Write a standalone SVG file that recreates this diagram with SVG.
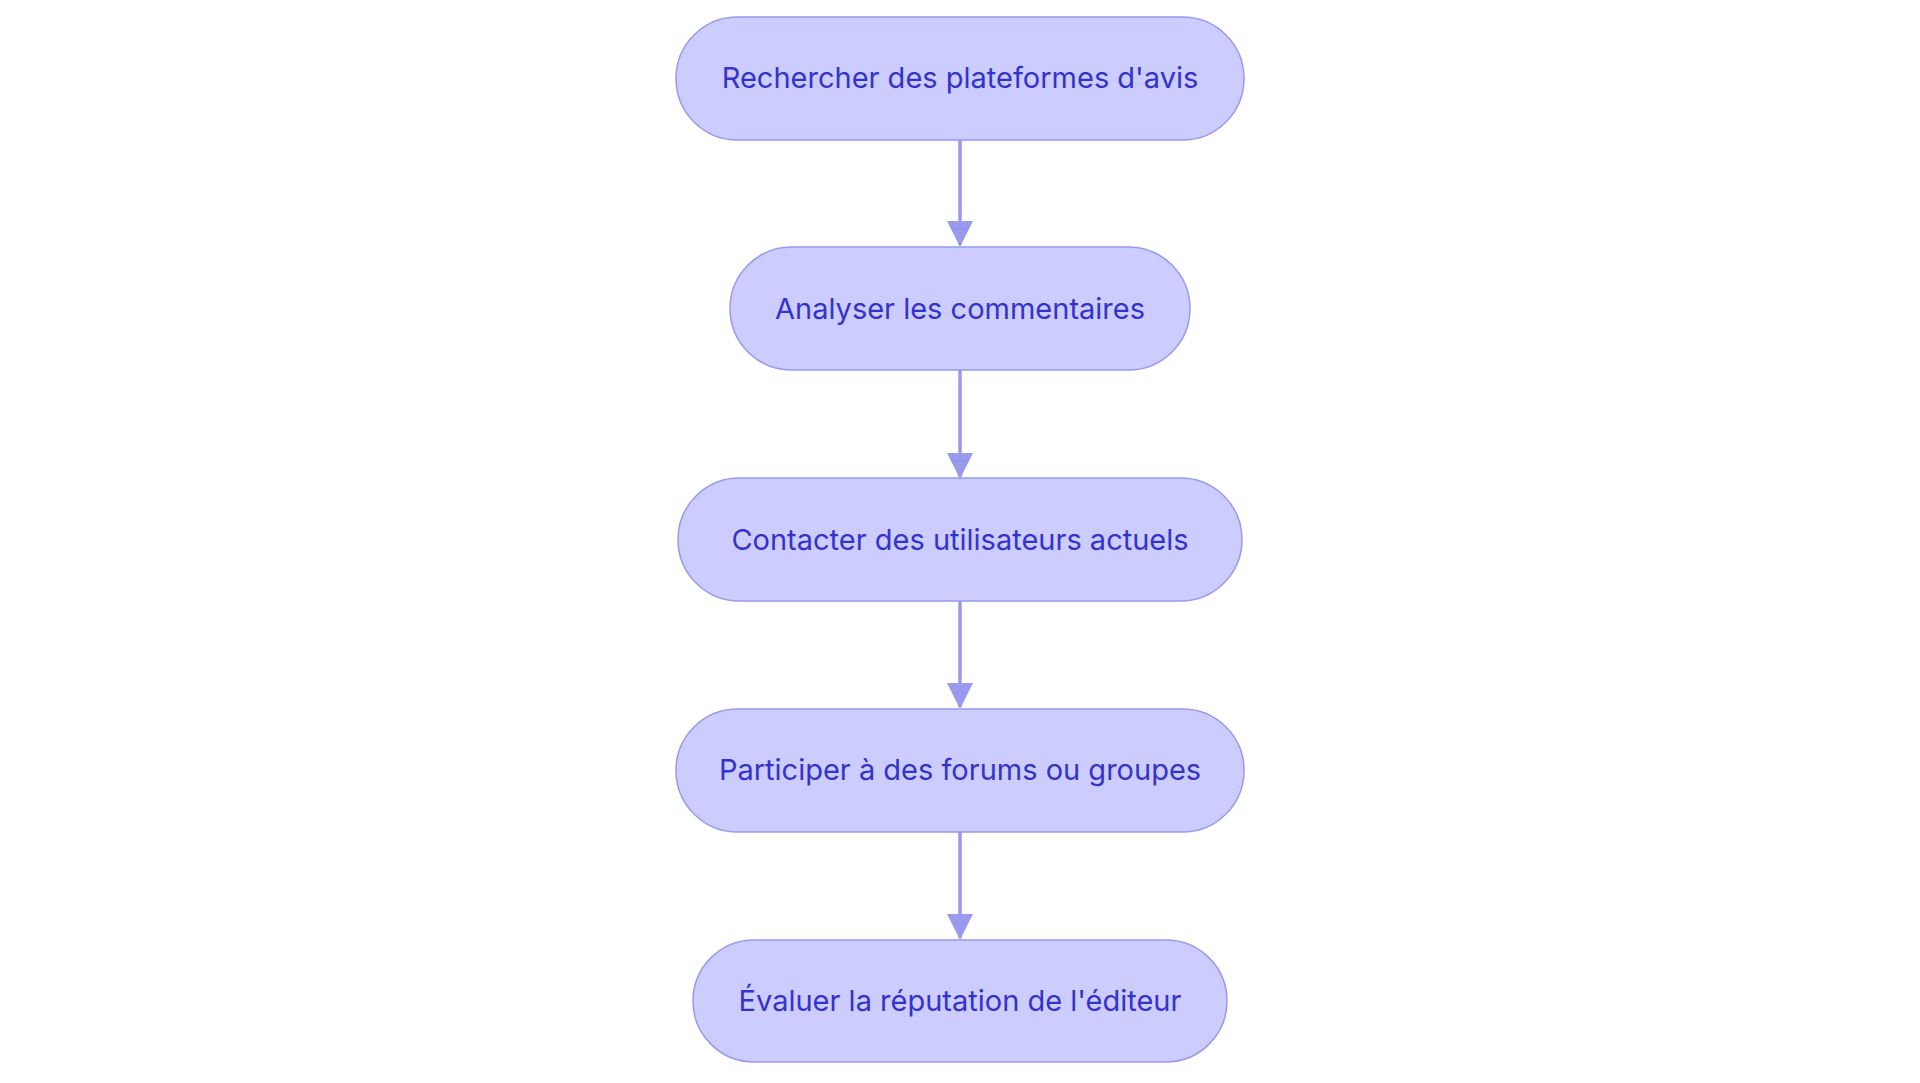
<svg xmlns="http://www.w3.org/2000/svg" width="1920" height="1083" viewBox="0 0 1920 1083">
<style>
.n rect{fill:#ccccff;stroke:#9999ee;stroke-width:1.5}
.n text{font-family:Inter,"Noto Sans",sans-serif;font-size:29px;fill:#3333cc;text-anchor:middle;dominant-baseline:central}
.e line{stroke:#9999ee;stroke-width:3.5}
</style>
<defs><marker id="a" markerWidth="10" markerHeight="10" refX="5" refY="8" orient="auto" markerUnits="userSpaceOnUse" viewBox="0 0 10 10"><path d="M0,0 L10,0 L5,10 z" fill="#9999ee" transform="scale(1)"/></marker>
<marker id="b" viewBox="0 0 26 26" markerWidth="26" markerHeight="26" refX="13" refY="24" orient="0" markerUnits="userSpaceOnUse"><path d="M0,0 L26,0 L13,26 z" fill="#9999ee"/></marker></defs>
<rect width="1920" height="1083" fill="#fff"/>
<g class="e">
<line x1="960" y1="140" x2="960" y2="245" marker-end="url(#b)"/>
<line x1="960" y1="370" x2="960" y2="477" marker-end="url(#b)"/>
<line x1="960" y1="600" x2="960" y2="707" marker-end="url(#b)"/>
<line x1="960" y1="831" x2="960" y2="938" marker-end="url(#b)"/>
</g>
<g id="n1" class="n"><rect x="676" y="17" width="568" height="123" rx="61.5"/><text x="960" y="77">Rechercher des plateformes d'avis</text></g>
<g id="n2" class="n"><rect x="730" y="247" width="460" height="123" rx="61.5"/><text x="960" y="308">Analyser les commentaires</text></g>
<g id="n3" class="n"><rect x="678" y="478" width="564" height="123" rx="61.5"/><text x="960" y="539">Contacter des utilisateurs actuels</text></g>
<g id="n4" class="n"><rect x="676" y="709" width="568" height="123" rx="61.5"/><text x="960" y="769">Participer à des forums ou groupes</text></g>
<g id="n5" class="n"><rect x="693" y="940" width="534" height="122" rx="61"/><text x="960" y="1000">Évaluer la réputation de l'éditeur</text></g>
</svg>
